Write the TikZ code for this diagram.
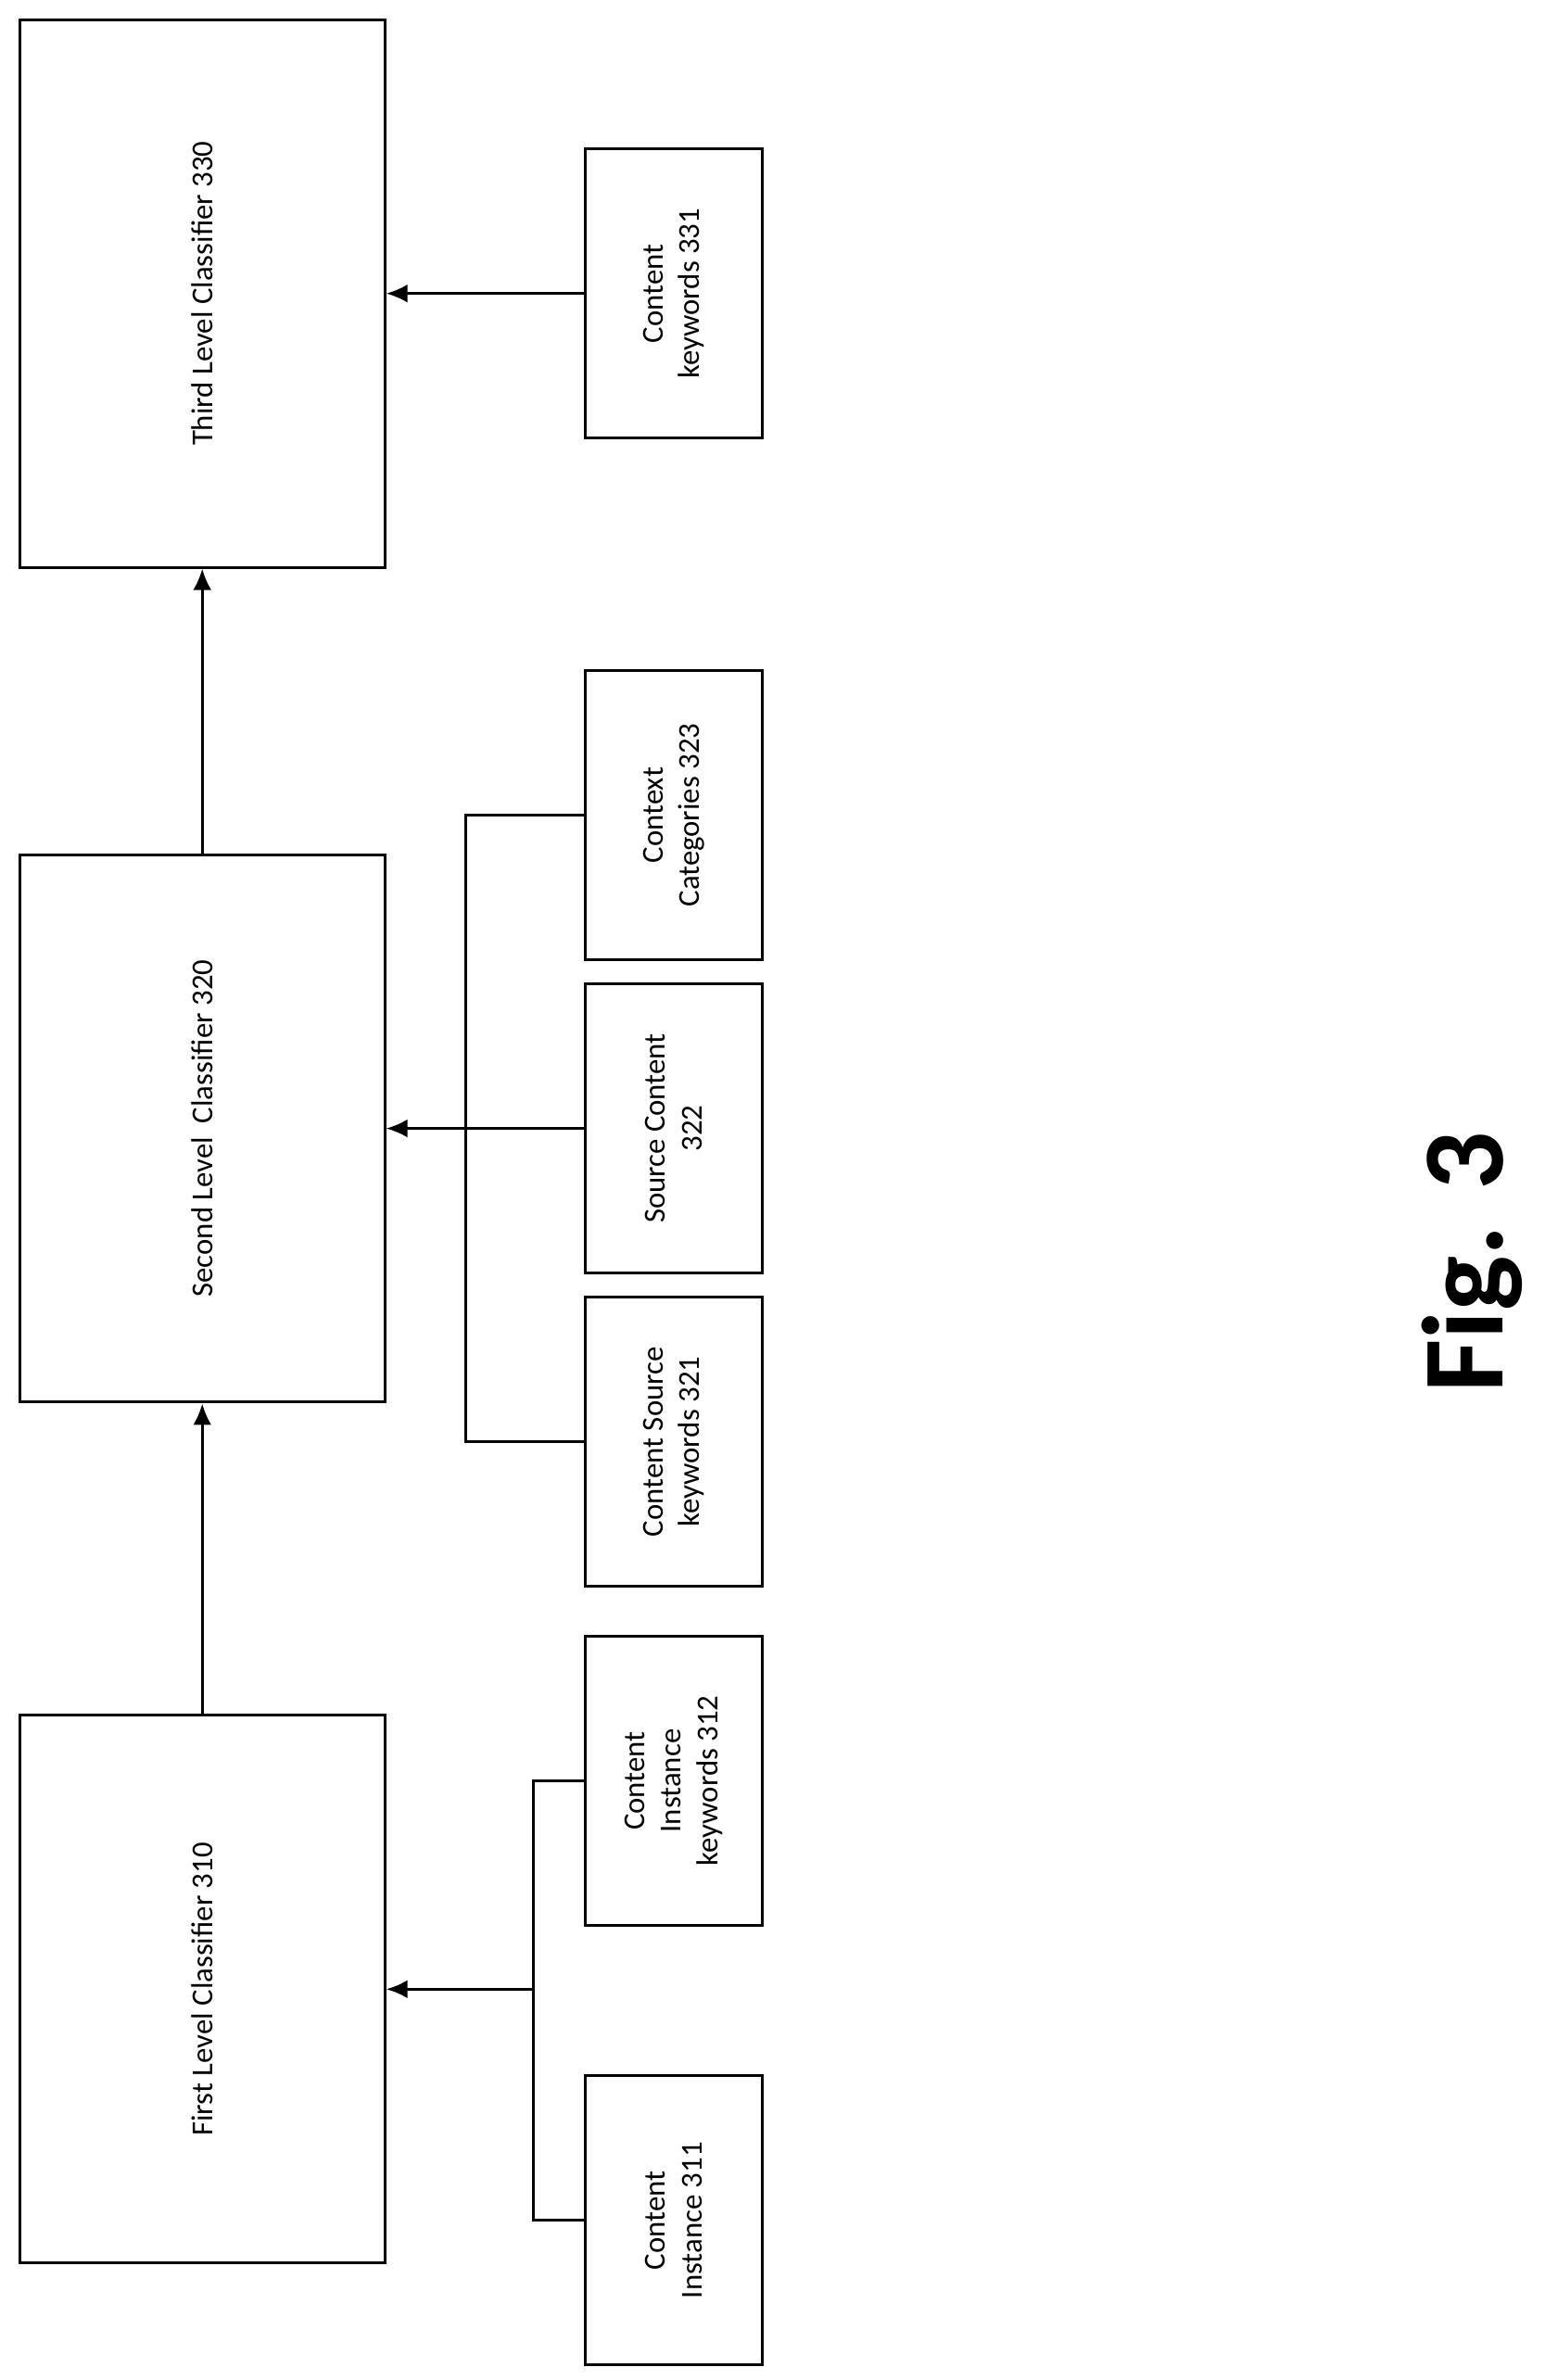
\documentclass[tikz,border=0pt]{standalone}
\usepackage{fontspec}
\setmainfont{Carlito}
\usetikzlibrary{arrows.meta}

\begin{document}
\begin{tikzpicture}[x=1pt,y=-1pt,line width=1.8pt,
  classbox/.style={draw,rotate=90,minimum width=360pt,minimum height=240pt,inner sep=0pt,font=\fontsize{20}{24}\selectfont},
  inbox/.style={draw,rotate=90,minimum width=190pt,minimum height=116pt,inner sep=2pt,align=center,font=\fontsize{20}{24}\selectfont}]
			\useasboundingbox (0,0) rectangle (1024,1565);
			\node[classbox] (c3) at (133, 193)  {Third Level Classifier 330};
			\node[classbox] (c2) at (133, 742)  {Second Level\ \ Classifier 320};
			\node[classbox] (c1) at (133, 1308) {First Level Classifier 310};
			
			\node[inbox] (k331) at (443, 193)  {Content\\keywords 331};
			\node[inbox] (k323) at (443, 536)  {Context\\Categories 323};
			\node[inbox] (k322) at (443, 742)  {Source Content\\322};
			\node[inbox] (k321) at (443, 948)  {Content Source\\keywords 321};
			\node[inbox] (k312) at (443, 1171) {Content\\Instance\\keywords 312};
			\node[inbox] (k311) at (443, 1460) {Content\\Instance 311};
			
			\coordinate (j2a) at (306, 536);
			\coordinate (j2b) at (306, 948);
			\coordinate (j1a) at (351, 1171);
			\coordinate (j1b) at (351, 1460);
			\coordinate (j1) at (351, 1308);
			
			\def\arrows {k331.north/c3.south, c2.east/c3.west, c1.east/c2.west, k322.north/c2.south, j1/c1.south}  % arrows
			\foreach \u/\v in \arrows
			{	\draw[-{Latex[length=14pt, width=12pt]}] (\u) -- (\v);}
			
			\draw (k323.north) -- (j2a) -- (j2b) -- (k321.north);
			\draw (k312.north) -- (j1a) -- (j1b) -- (k311.north);
			
			\node[rotate=90,font=\fontsize{76}{80}\selectfont\bfseries] (fig) at (968, 830) {Fig. 3};
		\end{tikzpicture}
\end{document}
